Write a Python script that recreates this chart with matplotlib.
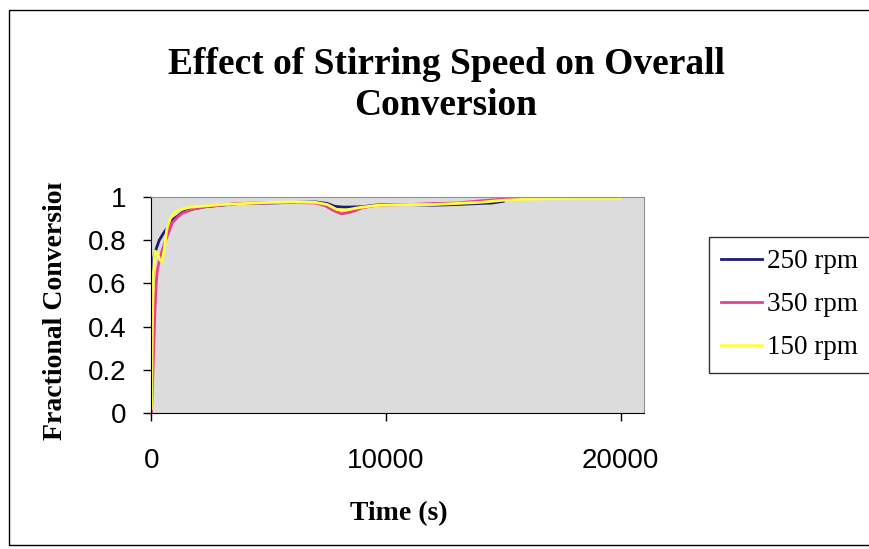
import matplotlib.pyplot as plt
from matplotlib.patches import Rectangle
from matplotlib.transforms import Bbox

# Data
t250 = [0, 50, 100, 200, 330, 500, 620, 800, 900, 1100, 1330, 1800, 2300, 3000,
        3730, 5000, 6000, 7000, 7500, 7800, 8200, 9000, 9500, 10000, 11000,
        12000, 13000, 14000, 14500, 15000]
c250 = [0.30, 0.60, 0.72, 0.76, 0.80, 0.83, 0.85, 0.87, 0.895, 0.91, 0.93, 0.945,
        0.955, 0.962, 0.97, 0.972, 0.975, 0.977, 0.97, 0.957, 0.953, 0.955, 0.962,
        0.965, 0.965, 0.962, 0.965, 0.97, 0.972, 0.98]

t350 = [0, 50, 100, 150, 200, 250, 340, 450, 600, 750, 880, 1100, 1310, 1800, 2300,
        3000, 3730, 5000, 6000, 7000, 7400, 7800, 8100, 8500, 9000, 9500, 10000,
        11000, 12000, 13000, 14000, 15000, 16000, 17000, 18500, 20000]
c350 = [0.0, 0.15, 0.32, 0.48, 0.60, 0.66, 0.71, 0.75, 0.80, 0.84, 0.88, 0.905,
        0.925, 0.945, 0.955, 0.963, 0.97, 0.973, 0.975, 0.972, 0.96, 0.935, 0.922,
        0.93, 0.95, 0.96, 0.963, 0.965, 0.97, 0.972, 0.982, 0.99, 0.993, 0.995,
        1.0, 1.0]

t150 = [0, 30, 80, 150, 250, 350, 450, 550, 650, 800, 1000, 1300, 1600, 2200, 3000,
        4000, 5000, 6000, 7000, 7500, 7900, 8300, 8800, 9500, 10000, 11000, 12000,
        13000, 14000, 15000, 16000, 17000, 18500, 20000]
c150 = [0.02, 0.35, 0.65, 0.75, 0.74, 0.71, 0.70, 0.76, 0.85, 0.90, 0.93, 0.945,
        0.952, 0.958, 0.965, 0.97, 0.975, 0.977, 0.975, 0.965, 0.942, 0.94, 0.95,
        0.96, 0.963, 0.965, 0.965, 0.97, 0.975, 0.985, 0.99, 0.992, 0.995, 0.995]

labels = ['250 rpm', '350 rpm', '150 rpm']
colors = ['#1c1c78', '#e8408c', '#ffff44']

W, H = 870, 549
fig = plt.figure(figsize=(8.7, 5.49), dpi=100)
ax = fig.add_axes([151.5 / W, 1 - 413 / H, (644 - 151.5) / W, (413 - 197) / H])
ax.set_facecolor('#dcdcdc')

for t, c, lab, col in zip([t250, t350, t150], [c250, c350, c150], labels, colors):
    ax.plot(t, c, color=col, lw=2, label=lab)

ax.set_xlim(0, 21000)
ax.set_ylim(0, 1)
ax.set_xticks([0, 10000, 20000])
ax.set_yticks([0, 0.2, 0.4, 0.6, 0.8, 1])
ax.set_yticklabels(['0', '0.2', '0.4', '0.6', '0.8', '1'])
ax.tick_params(axis='y', direction='out', length=6, width=1, pad=12)
ax.tick_params(axis='x', direction='out', length=6, width=1, pad=19)
for lbl in ax.get_xticklabels() + ax.get_yticklabels():
    lbl.set_fontfamily('Liberation Sans')
    lbl.set_fontsize(20)
for s in ['top', 'right']:
    ax.spines[s].set_color('#909090')
for s in ['left', 'bottom']:
    ax.spines[s].set_color('black')

# title and axis labels
fig.text(446 / W, 1 - 85 / H, 'Effect of Stirring Speed on Overall\nConversion',
         ha='center', va='center', fontsize=27, fontweight='bold',
         family='Liberation Serif', linespacing=1.2)
fig.text(399 / W, 1 - 514 / H, 'Time (s)', ha='center', va='center',
         fontsize=20, fontweight='bold', family='Liberation Serif')
yl = fig.text(56 / W, 1 - 440 / H, 'Fractional Conversion', rotation=90,
              ha='center', va='bottom', fontsize=20, fontweight='bold',
              family='Liberation Serif')
yl.set_clip_box(Bbox.from_extents(0, 0, W, H - 183))
yl.set_clip_on(True)

leg = fig.legend(loc='upper left', bbox_to_anchor=(709 / W, 1 - 237 / H),
                 borderaxespad=0, frameon=True, fancybox=False, edgecolor='black',
                 prop={'family': 'Liberation Serif', 'size': 19.5},
                 handlelength=1.5, handletextpad=0.2, labelspacing=0.67,
                 borderpad=0.45)
leg.get_frame().set_linewidth(1)

# outer chart border
fig.patches.append(Rectangle((9 / W, 4 / H), 1, (545 - 10) / H, transform=fig.transFigure,
                             fill=False, edgecolor='black', lw=1))

fig.savefig('out.png', dpi=100)
